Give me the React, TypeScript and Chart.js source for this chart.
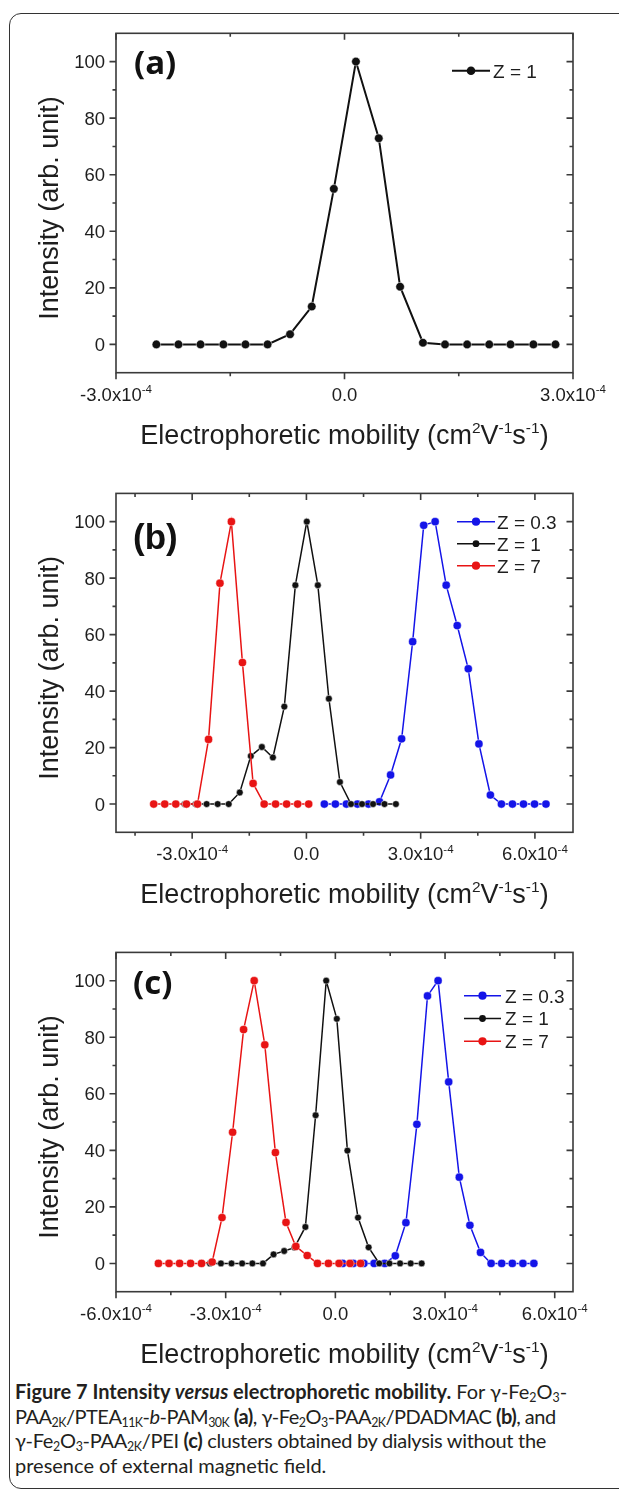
import React, { useEffect, useRef } from 'react';
import { Chart, registerables } from 'chart.js';

Chart.register(...registerables);

// ---------------- data (x in cm^2 V^-1 s^-1, y in arb. unit) ----------------
const aX = [-2.47e-4, -2.18e-4, -1.89e-4, -1.59e-4, -1.30e-4, -1.01e-4, -0.715e-4, -0.43e-4, -0.14e-4, 0.15e-4, 0.45e-4, 0.73e-4, 1.03e-4, 1.32e-4, 1.61e-4, 1.90e-4, 2.18e-4, 2.48e-4, 2.77e-4];
const aZ1 = [0, 0, 0, 0, 0, 0, 3.6, 13.4, 55, 100, 72.9, 20.4, 0.6, 0, 0, 0, 0, 0, 0];

const bZ7X = [-4.01e-4, -3.72e-4, -3.43e-4, -3.15e-4, -2.86e-4, -2.57e-4, -2.27e-4, -1.97e-4, -1.68e-4, -1.40e-4, -1.11e-4, -0.81e-4, -0.52e-4, -0.23e-4, 0.06e-4];
const bZ7 = [0, 0, 0, 0, 0, 22.9, 78.2, 100, 50.1, 7.3, 0, 0, 0, 0, 0];
const bZ1X = [-3.20e-4, -2.91e-4, -2.62e-4, -2.33e-4, -2.04e-4, -1.75e-4, -1.46e-4, -1.17e-4, -0.88e-4, -0.58e-4, -0.29e-4, 0.01e-4, 0.30e-4, 0.59e-4, 0.88e-4, 1.17e-4, 1.46e-4, 1.75e-4, 2.05e-4, 2.35e-4];
const bZ1 = [0, 0, 0, 0, 0, 4.1, 17.0, 20.2, 16.5, 34.5, 77.5, 100, 77.5, 37.3, 7.8, 0, 0, 0, 0, 0];
const bZ03X = [0.47e-4, 0.76e-4, 1.05e-4, 1.34e-4, 1.63e-4, 1.92e-4, 2.21e-4, 2.50e-4, 2.79e-4, 3.08e-4, 3.38e-4, 3.67e-4, 3.96e-4, 4.25e-4, 4.53e-4, 4.83e-4, 5.12e-4, 5.41e-4, 5.70e-4, 5.99e-4, 6.29e-4];
const bZ03 = [0, 0, 0, 0, 0, 0.8, 10.3, 23.1, 57.5, 98.7, 100, 77.5, 63.2, 47.9, 21.3, 3.2, 0, 0, 0, 0, 0];

const cZ7X = [-4.84e-4, -4.55e-4, -4.26e-4, -3.96e-4, -3.66e-4, -3.37e-4, -3.10e-4, -2.81e-4, -2.51e-4, -2.22e-4, -1.93e-4, -1.64e-4, -1.35e-4, -1.08e-4, -0.77e-4, -0.49e-4, -0.19e-4, 0.10e-4, 0.40e-4, 0.69e-4];
const cZ7 = [0, 0, 0, 0, 0, 0.5, 16.2, 46.4, 82.7, 100, 77.3, 39.2, 14.5, 6.0, 2.8, 0, 0, 0, 0, 0];
const cZ1X = [-3.43e-4, -3.13e-4, -2.84e-4, -2.55e-4, -2.27e-4, -1.98e-4, -1.69e-4, -1.40e-4, -1.12e-4, -0.82e-4, -0.54e-4, -0.25e-4, 0.04e-4, 0.33e-4, 0.62e-4, 0.91e-4, 1.20e-4, 1.48e-4, 1.77e-4, 2.06e-4, 2.36e-4];
const cZ1 = [0, 0, 0, 0, 0, 0, 3.2, 4.4, 5.6, 12.9, 52.4, 100, 86.5, 39.9, 16.2, 5.7, 0, 0, 0, 0, 0];
const cZ03X = [0.20e-4, 0.49e-4, 0.78e-4, 1.06e-4, 1.35e-4, 1.64e-4, 1.93e-4, 2.23e-4, 2.52e-4, 2.81e-4, 3.10e-4, 3.39e-4, 3.68e-4, 3.97e-4, 4.26e-4, 4.55e-4, 4.84e-4, 5.13e-4, 5.43e-4];
const cZ03 = [0, 0, 0, 0, 0, 2.7, 14.4, 49.2, 94.6, 100, 64.2, 30.5, 13.5, 3.9, 0, 0, 0, 0, 0];

// ---------------- ticks ----------------
const xMajorA = [-3e-4, 0, 3e-4];
const xMinorA = [-1.5e-4, 1.5e-4];
const xMajorB = [-3e-4, 0, 3e-4, 6e-4];
const xMinorB = [-4.5e-4, -1.5e-4, 1.5e-4, 4.5e-4];
const xMajorC = [-6e-4, -3e-4, 0, 3e-4, 6e-4];
const xMinorC = [-4.5e-4, -1.5e-4, 1.5e-4, 4.5e-4];
const yMajor = [0, 20, 40, 60, 80, 100];
const yMinor = [10, 30, 50, 70, 90];

const seriesLabels = { z03: 'Z = 0.3', z1: 'Z = 1', z7: 'Z = 7' };

// ---------------- style ----------------
const BLACK = '#111111';
const BLUE = '#1414e8';
const RED = '#e81414';
const AXIS = '#3a3a3a';
const TEXT = '#1e1e1e';
const SANS = '"Liberation Sans", Arial, sans-serif';
const TICK_FONT = `18.5px ${SANS}`;
const SUP_FONT = `11.5px ${SANS}`;
const TITLE_FONT = `27px ${SANS}`;
const TITLE_SUP_FONT = `15.5px ${SANS}`;
const LEGEND_FONT = `19px ${SANS}`;
const MAJ = 6.5;
const MIN = 3.5;

type Series = { key: keyof typeof seriesLabels; xs: number[]; ys: number[]; color: string; r: number; w: number; order: number };
type LegendSpec = { x0: number; x1: number; textX: number; y0: number; dy: number };
type PanelSpec = {
  name: string;
  top: number;
  height: number;
  areaTop: number;
  areaBottom: number;
  xMin: number;
  xMax: number;
  xMajor: number[];
  xMinor: number[];
  series: Series[];
  legendOrder: (keyof typeof seriesLabels)[];
  legend: LegendSpec;
  tag: string;
  tagFont: string;
  tagX: number;
  tagBase: number;
};

const panels: PanelSpec[] = [
  {
    name: 'a', top: 0, height: 460, areaTop: 33.3, areaBottom: 372.7,
    xMin: -3e-4, xMax: 3e-4, xMajor: xMajorA, xMinor: xMinorA,
    series: [{ key: 'z1', xs: aX, ys: aZ1, color: BLACK, r: 4.3, w: 2, order: 1 }],
    legendOrder: ['z1'],
    legend: { x0: 452, x1: 490, textX: 493, y0: 70.7, dy: 22 },
    tag: '(a)', tagFont: `bold 33px "Open Sans", Lato, sans-serif`, tagX: 134, tagBase: 74,
  },
  {
    name: 'b', top: 460, height: 459, areaTop: 33.4, areaBottom: 372.3,
    xMin: -5e-4, xMax: 7e-4, xMajor: xMajorB, xMinor: xMinorB,
    series: [
      { key: 'z03', xs: bZ03X, ys: bZ03, color: BLUE, r: 4.1, w: 1.5, order: 3 },
      { key: 'z1', xs: bZ1X, ys: bZ1, color: BLACK, r: 3.4, w: 1.5, order: 2 },
      { key: 'z7', xs: bZ7X, ys: bZ7, color: RED, r: 4.1, w: 1.5, order: 1 },
    ],
    legendOrder: ['z03', 'z1', 'z7'],
    legend: { x0: 457, x1: 495, textX: 497, y0: 61.7, dy: 22 },
    tag: '(b)', tagFont: `bold 35px ${SANS}`, tagX: 133, tagBase: 89,
  },
  {
    name: 'c', top: 919, height: 460, areaTop: 33.4, areaBottom: 372.7,
    xMin: -6e-4, xMax: 6.5e-4, xMajor: xMajorC, xMinor: xMinorC,
    series: [
      { key: 'z03', xs: cZ03X, ys: cZ03, color: BLUE, r: 4.1, w: 1.5, order: 3 },
      { key: 'z1', xs: cZ1X, ys: cZ1, color: BLACK, r: 3.4, w: 1.5, order: 2 },
      { key: 'z7', xs: cZ7X, ys: cZ7, color: RED, r: 4.1, w: 1.5, order: 1 },
    ],
    legendOrder: ['z03', 'z1', 'z7'],
    legend: { x0: 464, x1: 501, textX: 505, y0: 76.7, dy: 22.8 },
    tag: '(c)', tagFont: `bold 33px "Open Sans", Lato, sans-serif`, tagX: 133, tagBase: 75,
  },
];

const AREA_LEFT = 116;
const AREA_RIGHT = 573;

function sciLabel(v: number): { main: string; sup: string } {
  if (Math.abs(v) < 1e-12) return { main: '0.0', sup: '' };
  const m = v / 1e-4;
  return { main: `${m.toFixed(1)}x10`, sup: '-4' };
}

function drawRich(ctx: CanvasRenderingContext2D, parts: [string, boolean][], cx: number, base: number, font: string, supFont: string, rise: number) {
  let total = 0;
  const widths = parts.map(([t, s]) => {
    ctx.font = s ? supFont : font;
    const w = ctx.measureText(t).width;
    total += w;
    return w;
  });
  let x = cx - total / 2;
  ctx.textAlign = 'left';
  ctx.textBaseline = 'alphabetic';
  parts.forEach(([t, s], i) => {
    ctx.font = s ? supFont : font;
    ctx.fillText(t, x, s ? base - rise : base);
    x += widths[i];
  });
}

function makeDecor(spec: PanelSpec) {
  return {
    id: 'decor_' + spec.name,
    beforeDatasetsDraw(chart: any) {
      const { ctx, chartArea: a, scales } = chart;
      const xs = scales.x;
      const ys = scales.y;
      ctx.save();
      ctx.strokeStyle = AXIS;
      ctx.lineWidth = 1.6;
      ctx.strokeRect(a.left, a.top, a.right - a.left, a.bottom - a.top);
      ctx.beginPath();
      const xt = (vals: number[], len: number) => vals.forEach((v) => {
        const px = xs.getPixelForValue(v);
        ctx.moveTo(px, a.bottom); ctx.lineTo(px, a.bottom + len);
        ctx.moveTo(px, a.top); ctx.lineTo(px, a.top + len);
      });
      const yt = (vals: number[], len: number) => vals.forEach((v) => {
        const py = ys.getPixelForValue(v);
        ctx.moveTo(a.left, py); ctx.lineTo(a.left - len, py);
        ctx.moveTo(a.right, py); ctx.lineTo(a.right - len, py);
      });
      xt(spec.xMajor, MAJ); xt(spec.xMinor, MIN);
      yt(yMajor, MAJ); yt(yMinor, MIN);
      ctx.stroke();
      ctx.restore();
    },
    afterDatasetsDraw(chart: any) {
      const { ctx, chartArea: a, scales } = chart;
      const xs = scales.x;
      const ys = scales.y;
      ctx.save();
      ctx.fillStyle = TEXT;
      // y tick labels
      ctx.font = TICK_FONT;
      ctx.textAlign = 'right';
      ctx.textBaseline = 'alphabetic';
      yMajor.forEach((v) => {
        ctx.fillText(String(v), a.left - 11, ys.getPixelForValue(v) + 6.6);
      });
      // x tick labels
      spec.xMajor.forEach((v) => {
        const { main, sup } = sciLabel(v);
        const parts: [string, boolean][] = sup ? [[main, false], [sup, true]] : [[main, false]];
        drawRich(ctx, parts, xs.getPixelForValue(v), a.bottom + 28, TICK_FONT, SUP_FONT, 7.5);
      });
      // x title
      drawRich(ctx, [
        ['Electrophoretic mobility (cm', false], ['2', true], ['V', false], ['-1', true], ['s', false], ['-1', true], [')', false],
      ], (a.left + a.right) / 2, a.bottom + 71, TITLE_FONT, TITLE_SUP_FONT, 11);
      // y title
      ctx.save();
      ctx.translate(57.5, (a.top + a.bottom) / 2 + 5);
      ctx.rotate(-Math.PI / 2);
      ctx.font = TITLE_FONT;
      ctx.textAlign = 'center';
      ctx.fillText('Intensity (arb. unit)', 0, 0);
      ctx.restore();
      // panel tag
      ctx.font = spec.tagFont;
      ctx.textAlign = 'left';
      ctx.fillStyle = '#111';
      ctx.fillText(spec.tag, spec.tagX, spec.tagBase);
      // legend
      const L = spec.legend;
      spec.legendOrder.forEach((k, i) => {
        const s = spec.series.find((q) => q.key === k)!;
        const y = L.y0 + i * L.dy;
        ctx.strokeStyle = s.color;
        ctx.lineWidth = s.w;
        ctx.beginPath();
        ctx.moveTo(L.x0, y); ctx.lineTo(L.x1, y);
        ctx.stroke();
        ctx.fillStyle = s.color;
        ctx.beginPath();
        ctx.arc((L.x0 + L.x1) / 2, y, s.r, 0, Math.PI * 2);
        ctx.fill();
        ctx.fillStyle = TEXT;
        ctx.font = LEGEND_FONT;
        ctx.textAlign = 'left';
        ctx.fillText(seriesLabels[k], L.textX, y + 6.8);
      });
      ctx.restore();
    },
  };
}

function Panel({ spec }: { spec: PanelSpec }) {
  const ref = useRef<HTMLCanvasElement | null>(null);
  useEffect(() => {
    if (!ref.current) return;
    const chart = new Chart(ref.current, {
      type: 'line',
      data: {
        datasets: spec.series.map((s) => ({
          label: seriesLabels[s.key],
          data: s.xs.map((x, i) => ({ x, y: s.ys[i] })),
          borderColor: s.color,
          backgroundColor: s.color,
          borderWidth: s.w,
          pointRadius: s.r,
          pointBackgroundColor: s.color,
          pointBorderColor: 'rgba(255,255,255,0.85)',
          pointBorderWidth: 0.6,
          tension: 0,
          fill: false,
          order: s.order,
        })),
      },
      options: {
        animation: false,
        responsive: false,
        devicePixelRatio: 1,
        events: [],
        layout: {
          padding: {
            left: AREA_LEFT,
            right: 619 - AREA_RIGHT,
            top: spec.areaTop,
            bottom: spec.height - spec.areaBottom,
          },
        },
        scales: {
          x: { type: 'linear', min: spec.xMin, max: spec.xMax, display: false },
          y: { type: 'linear', min: -10, max: 110, display: false },
        },
        plugins: { legend: { display: false }, tooltip: { enabled: false } },
      },
      plugins: [makeDecor(spec)],
    } as any);
    return () => chart.destroy();
  }, [spec]);
  return (
    <canvas
      ref={ref}
      width={619}
      height={spec.height}
      style={{ position: 'absolute', left: 0, top: spec.top, width: 619, height: spec.height, display: 'block' }}
    />
  );
}

const Sub = ({ children }: { children: React.ReactNode }) => (
  <sub style={{ fontSize: '0.62em', verticalAlign: '-0.28em', lineHeight: 0 }}>{children}</sub>
);

export default function App() {
  return (
    <div style={{ position: 'absolute', left: 0, top: 0, width: 619, height: 1490, overflow: 'hidden', background: '#fff' }}>
      <div style={{ position: 'absolute', left: 9, top: 13, width: 700, height: 1476, border: '1.5px solid #333', borderRadius: 12, boxSizing: 'border-box' }} />
      {panels.map((p) => <Panel key={p.name} spec={p} />)}
      <div style={{ position: 'absolute', left: 15, top: 1379, font: '20px Lato, "Open Sans", sans-serif', lineHeight: '24.5px', color: '#231f20', whiteSpace: 'nowrap' }}>
        <div><b>Figure 7 Intensity <i>versus</i> electrophoretic mobility.</b> For γ-Fe<Sub>2</Sub>O<Sub>3</Sub>-</div>
        <div style={{ letterSpacing: '-0.5px' }}>PAA<Sub>2K</Sub>/PTEA<Sub>11K</Sub>-<i>b</i>-PAM<Sub>30K</Sub> <b>(a)</b>, γ-Fe<Sub>2</Sub>O<Sub>3</Sub>-PAA<Sub>2K</Sub>/PDADMAC <b>(b)</b>, and</div>
        <div style={{ letterSpacing: '-0.3px' }}>γ-Fe<Sub>2</Sub>O<Sub>3</Sub>-PAA<Sub>2K</Sub>/PEI <b>(c)</b> clusters obtained by dialysis without the</div>
        <div>presence of external magnetic field.</div>
      </div>
    </div>
  );
}
